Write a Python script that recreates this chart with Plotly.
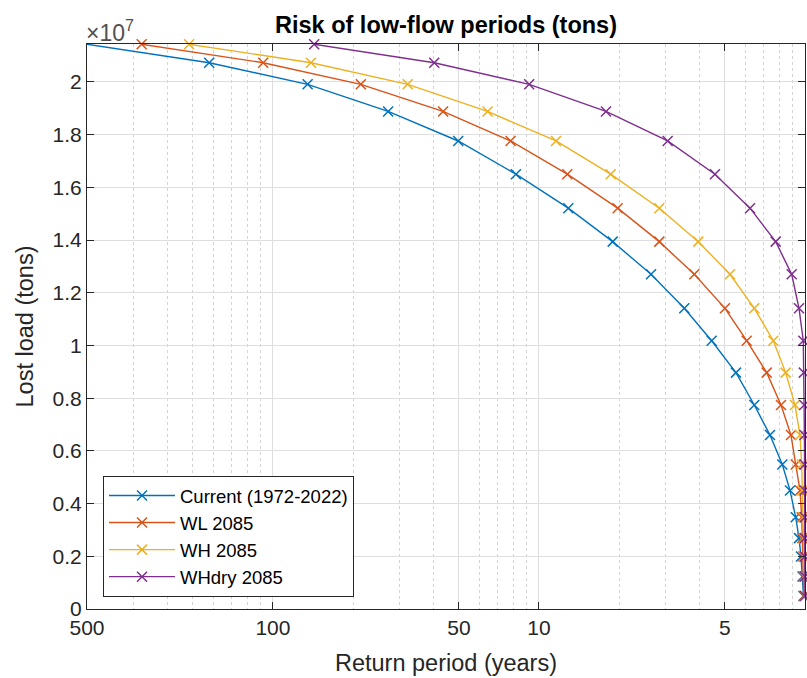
import plotly.graph_objects as go

# Shared load levels (tons)
loads = [21.43e6, 20.73e6, 19.91e6, 18.88e6, 17.76e6, 16.50e6, 15.21e6, 13.94e6, 12.70e6,
         11.41e6, 10.18e6, 8.97e6, 7.74e6, 6.60e6, 5.48e6, 4.50e6, 3.48e6, 2.69e6, 1.99e6,
         1.23e6, 0.49e6]

# Exceedance probability for each series at those loads
p_current = [0.0020, 0.00576, 0.0135, 0.0271, 0.0497, 0.0819, 0.1289, 0.1893, 0.2637, 0.3518,
             0.4458, 0.5502, 0.6448, 0.7385, 0.8217, 0.8783, 0.9227, 0.9494, 0.9660, 0.9786, 0.9870]
p_wl = [0.00321, 0.00919, 0.0214, 0.0436, 0.0782, 0.1278, 0.1976, 0.2834, 0.3836, 0.5002,
        0.6037, 0.7178, 0.8124, 0.8858, 0.9227, 0.9577, 0.9718, 0.9769, 0.9854, 0.9880, 0.9900]
p_wh = [0.00484, 0.0139, 0.0321, 0.0641, 0.1159, 0.1860, 0.2834, 0.3971, 0.5224, 0.6448,
        0.7600, 0.8461, 0.9172, 0.9577, 0.9718, 0.9769, 0.9854, 0.990, 0.993, 0.996, 0.998]
p_whdry = [0.01429, 0.0404, 0.0919, 0.1786, 0.3046, 0.4587, 0.6214, 0.7759, 0.8913, 0.9494,
           0.9854, 0.990, 0.993, 0.995, 0.996, 0.997, 0.998, 0.998, 0.999, 0.999, 0.9995]

series_names = ["Current (1972-2022)", "WL 2085", "WH 2085", "WHdry 2085"]
series_p = [p_current, p_wl, p_wh, p_whdry]
colors = ["#0072BD", "#D95319", "#EDB120", "#7E2F8E"]

x_tickvals = [0.002, 0.01, 0.05, 0.1, 0.5, 1]
x_ticktext = ["500", "100", "50", "10", "5", "1"]
x_minor = [0.003, 0.004, 0.005, 0.006, 0.007, 0.008, 0.009,
           0.02, 0.03, 0.04, 0.06, 0.07, 0.08, 0.09,
           0.2, 0.3, 0.4, 0.6, 0.7, 0.8, 0.9]
y_tickvals = [0, 0.2e7, 0.4e7, 0.6e7, 0.8e7, 1.0e7, 1.2e7, 1.4e7, 1.6e7, 1.8e7, 2.0e7]
y_ticktext = ["0", "0.2", "0.4", "0.6", "0.8", "1", "1.2", "1.4", "1.6", "1.8", "2"]

FONT = "Liberation Sans, Arial, sans-serif"
AX = "#262626"
TICK = 21
LAB = 23.5

fig = go.Figure()
for name, p, c in zip(series_names, series_p, colors):
    fig.add_trace(go.Scatter(
        x=p, y=loads, name=name, mode="lines+markers",
        line=dict(color=c, width=1.4),
        marker=dict(symbol="x-thin", size=10, color=c, line=dict(color=c, width=1.5)),
        cliponaxis=False,
    ))

fig.update_layout(
    width=807, height=678,
    margin=dict(l=87, r=2, t=44, b=69),
    paper_bgcolor="white", plot_bgcolor="white",
    font=dict(family=FONT, size=17, color=AX),
    title=dict(text="<b>Risk of low-flow periods (tons)</b>", xref="paper", x=0.5,
               xanchor="center", yref="container", y=0.9631, yanchor="middle",
               font=dict(size=LAB, color="black")),
    showlegend=True,
    legend=dict(x=0.0223, y=0.2354, xanchor="left", yanchor="top",
                bgcolor="white", bordercolor=AX, borderwidth=1,
                font=dict(size=18.5, color="black"), itemwidth=66),
)

fig.update_xaxes(
    type="log", range=[-2.69897, 0],
    tickmode="array", tickvals=x_tickvals, ticktext=x_ticktext,
    ticks="inside", ticklen=7, tickcolor=AX, tickfont=dict(size=TICK, color=AX),
    showline=True, linecolor=AX, linewidth=1, mirror="ticks",
    showgrid=True, gridcolor="#dedede", gridwidth=1,
    minor=dict(tickmode="array", tickvals=x_minor, showgrid=True,
               gridcolor="#d4d4d4", griddash="dot", gridwidth=1, ticks=""),
    title=dict(text="Return period (years)", font=dict(size=LAB, color=AX), standoff=16),
    zeroline=False, automargin=False,
)
fig.update_yaxes(
    range=[0, 21.44e6],
    tickmode="array", tickvals=y_tickvals, ticktext=y_ticktext,
    ticks="inside", ticklen=7, tickcolor=AX, tickfont=dict(size=TICK, color=AX),
    showline=True, linecolor=AX, linewidth=1, mirror="ticks",
    showgrid=True, gridcolor="#dedede", gridwidth=1,
    title=dict(text="Lost load (tons)", font=dict(size=LAB, color=AX), standoff=12),
    zeroline=False, automargin=False,
)

fig.add_annotation(
    text="×10<sup>7</sup>", xref="paper", yref="paper", x=0.0, y=1.0,
    xanchor="left", yanchor="bottom", showarrow=False, yshift=-4, xshift=-3,
    font=dict(size=23, color="#505050"),
)

fig.write_html(
    "out.html",
    config={"displayModeBar": False},
    post_script="document.body.style.margin='0';document.body.style.overflow='hidden';"
                "document.documentElement.style.overflow='hidden';",
)
